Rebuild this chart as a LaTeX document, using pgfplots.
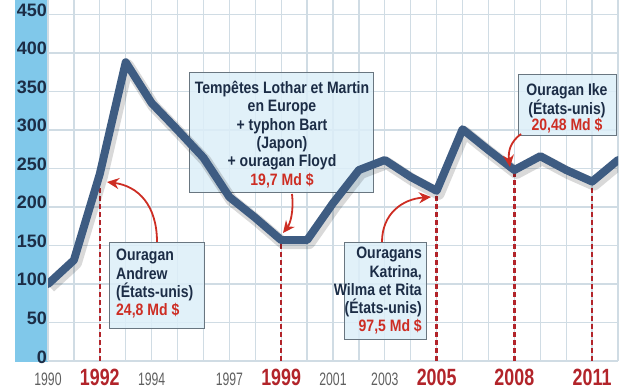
\documentclass[border=0pt]{standalone}
\usepackage{pgfplots}
\usepackage{pgfplotstable}
\pgfplotsset{compat=1.18}
\usetikzlibrary{arrows.meta}
\usepackage{fontspec}
\setmainfont{Liberation Sans}
\newfontfamily\boxfont[FakeStretch=0.85]{Liberation Sans}
\newfontfamily\grayfont[FakeStretch=0.68]{Liberation Sans}
\newfontfamily\redfont[FakeStretch=0.76]{Liberation Sans}
\definecolor{band}{RGB}{128,200,234}
\definecolor{gridc}{RGB}{208,220,228}
\definecolor{navy}{RGB}{28,45,70}
\definecolor{glab}{RGB}{95,95,95}
\definecolor{rlab}{RGB}{178,36,42}
\definecolor{linec}{RGB}{62,92,130}
\definecolor{redc}{RGB}{205,45,35}
\definecolor{boxfill}{RGB}{220,238,248}
\definecolor{boxdraw}{RGB}{105,118,128}
\newcommand\gl[1]{{\grayfont\fontsize{18bp}{18bp}\selectfont\color{glab}#1}}
\newcommand\rl[1]{{\redfont\bfseries\fontsize{23.5bp}{23.5bp}\selectfont\color{rlab}#1}}
\pgfplotstableread{
year val
1990 100
1991 131
1992 243
1993 388
1994 335
1995 300
1996 264
1997 213
1998 186
1999 157
2000 157
2001 205
2002 248
2003 261
2004 239
2005 221
2006 301
2007 274
2008 248
2009 266
2010 248
2011 233
2012 261
}\datatable
\pgfplotsset{geom/.style={at={(0bp,0bp)}, anchor=south west, scale only axis,
  width=570bp, height=361bp, xmin=1990, xmax=2012, ymin=0, ymax=468.83}}
\begin{document}
\begin{tikzpicture}
\path[use as bounding box] (-48bp,-31bp) rectangle (584bp,361bp);
\begin{scope}[x=1bp,y=-1bp,shift={(-48bp,361bp)}]
\fill[band] (15,0) rectangle (48,362);
\end{scope}
\begin{axis}[geom,
  axis line style={draw=none}, major tick length=0pt,
  xtick={1990,1991,...,2012}, ytick={0,50,...,450},
  grid=major, major grid style={gridc, line width=1.3bp},
  xticklabels={\gl{1990},,\rl{1992},,\gl{1994},,,\gl{1997},,\rl{1999},,\gl{2001},,\gl{2003},,\rl{2005},,,\rl{2008},,,\rl{2011},},
  yticklabels={0,50,100,150,200,250,300,350,400,450},
  xticklabel style={anchor=base, yshift=-24bp, inner sep=0pt},
  yticklabel style={anchor=base east, xshift=-1bp, yshift=-2bp, inner sep=0pt,
     font=\bfseries\fontsize{18bp}{18bp}\selectfont, text=navy},
]
\end{axis}
\begin{scope}[x=1bp,y=-1bp,shift={(-48bp,361bp)}]
\tikzset{bx/.style={fill=boxfill, fill opacity=0.85, draw=boxdraw, line width=1bp}}
\path[bx] (110,243) rectangle (205,329);
\node[anchor=north west, align=left, inner sep=0pt, font=\boxfont\bfseries\fontsize{16.5bp}{18.3bp}\selectfont, text=navy] at (116,249)
  {Ouragan\\Andrew\\(États-unis)\\\textcolor{redc}{24,8 Md \$}};
\path[bx] (190,73) rectangle (374,193);
\node[anchor=north, align=center, inner sep=0pt, font=\boxfont\bfseries\fontsize{16.5bp}{18.3bp}\selectfont, text=navy] at (282,81)
  {Tempêtes Lothar et Martin\\en Europe\\+ typhon Bart\\(Japon)\\+ ouragan Floyd\\\textcolor{redc}{19,7 Md \$}};
\path[bx] (345,243) rectangle (427,340);
\node[anchor=north east, align=right, inner sep=0pt, font=\boxfont\bfseries\fontsize{16.5bp}{18.3bp}\selectfont, text=navy] at (422,247)
  {Ouragans\\Katrina,\\Wilma et Rita\\(États-unis)\\\textcolor{redc}{97,5 Md \$}};
\path[bx] (518,75) rectangle (616,136);
\node[anchor=north, align=center, inner sep=0pt, font=\boxfont\bfseries\fontsize{16.5bp}{16.5bp}\selectfont, text=navy] at (567,83)
  {Ouragan Ike\\(États-unis)\\\textcolor{redc}{20,48 Md \$}};
\end{scope}
\begin{axis}[geom, hide axis]
\addplot[rlab, line width=2.6bp, dash pattern=on 5bp off 3bp] coordinates {(1992,0) (1992,243)};
\addplot[rlab, line width=2.6bp, dash pattern=on 5bp off 3bp] coordinates {(1999,0) (1999,157)};
\addplot[rlab, line width=2.6bp, dash pattern=on 5bp off 3bp] coordinates {(2005,0) (2005,221)};
\addplot[rlab, line width=2.6bp, dash pattern=on 5bp off 3bp] coordinates {(2008,0) (2008,248)};
\addplot[rlab, line width=2.6bp, dash pattern=on 5bp off 3bp] coordinates {(2011,0) (2011,233)};
\addplot[black, opacity=0.15, line width=12bp, line join=round, xshift=2bp, yshift=-3bp] table[x=year,y=val] {\datatable};
\addplot[linec, line width=8bp, line join=round, line cap=round] table[x=year,y=val] {\datatable};
\end{axis}
\begin{scope}[x=1bp,y=-1bp,shift={(-48bp,361bp)}, redc, line width=1.8bp]
\tikzset{ah/.style={-{Stealth[length=12bp,width=11bp]}}}
\draw[ah] (157,242) .. controls (157,205) and (138,186) .. (107,182);
\draw[ah] (292,194) .. controls (294,212) and (290,224) .. (283,233);
\draw[ah] (382,242) .. controls (382,214) and (402,199) .. (431,197);
\draw[ah] (521,134) .. controls (510,142) and (508,152) .. (510,167);
\end{scope}
\end{tikzpicture}
\end{document}
